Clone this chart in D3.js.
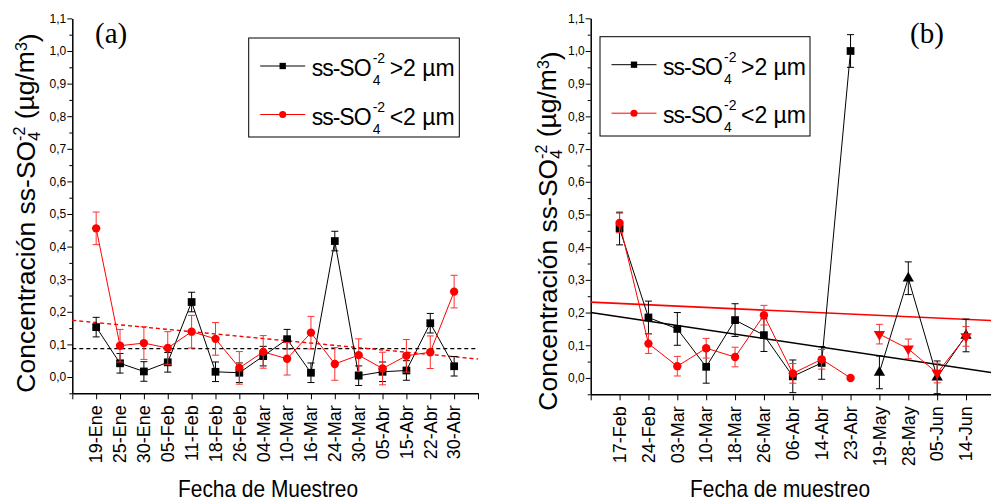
<!DOCTYPE html>
<html><head><meta charset="utf-8">
<script src="https://cdn.jsdelivr.net/npm/d3@7"></script>
<style>body{margin:0;background:#fff}svg{display:block}</style>
</head><body>
<div id="chart"></div>
<script>
// ---------- DATA ----------
const catsA = ["19-Ene","25-Ene","30-Ene","05-Feb","11-Feb","18-Feb","26-Feb","04-Mar","10-Mar","16-Mar","24-Mar","30-Mar","05-Abr","15-Abr","22-Abr","30-Abr"];
const coarseA = [0.153,0.042,0.017,0.045,0.230,0.016,0.013,0.064,0.116,0.013,0.417,0.004,0.016,0.020,0.165,0.033];
const coarseAErr = [0.03,0.03,0.03,0.03,0.03,0.03,0.03,0.03,0.03,0.03,0.03,0.03,0.03,0.03,0.03,0.03];
const fineA = [0.456,0.096,0.104,0.089,0.139,0.117,0.028,0.077,0.056,0.136,0.040,0.067,0.026,0.065,0.076,0.262];
const fineAErr = [0.05,0.05,0.05,0.05,0.05,0.05,0.05,0.05,0.05,0.05,0.05,0.05,0.05,0.05,0.05,0.05];
const trendAX = [0,17];
const trendACoarse = [0.087,0.087];
const trendAFine = [0.174,0.055];

const catsB = ["17-Feb","24-Feb","03-Mar","10-Mar","18-Mar","26-Mar","06-Abr","14-Abr","23-Abr","19-May","28-May","05-Jun","14-Jun"];
const coarseB = [0.457,0.185,0.150,0.034,0.177,0.131,0.005,0.046,1.000,0.017,0.305,0.002,0.130];
const coarseBErr = [0.05,0.05,0.05,0.05,0.05,0.05,0.05,0.05,0.05,0.05,0.05,0.05,0.05];
const fineB = [0.474,0.105,0.036,0.091,0.064,0.192,0.014,0.057,0.000,0.134,0.089,0.015,0.127];
const fineBErr = [0.03,0.03,0.03,0.03,0.03,0.03,0.03,0.03,0,0.03,0.03,0.03,0.03];
const groupB = [0,0,0,0,0,0,0,0,0,1,1,1,1];   // 0: first campaign, 1: second campaign
const trendBX = [0,14];
const trendBCoarse = [0.200,0.015];
const trendBFine = [0.232,0.175];

const yTicks = [0,0.1,0.2,0.3,0.4,0.5,0.6,0.7,0.8,0.9,1.0,1.1];
const yMinor = [-0.05,0.05,0.15,0.25,0.35,0.45,0.55,0.65,0.75,0.85,0.95,1.05];

// ---------- DRAW ----------
const W = 991, H = 501;
const SANS = "'Liberation Sans', Arial, sans-serif";
const svg = d3.select("#chart").append("svg").attr("width", W).attr("height", H)
  .style("font-family", SANS);
const fmt = v => d3.format(".1f")(v).replace(".", ",");

function panel(o) {
  const g = svg.append("g");
  const x = d3.scaleLinear().domain(o.xDomain).range(o.xRange);
  const y = d3.scaleLinear().domain([-0.05, 1.1]).range(o.yRange);
  const x0 = o.xRange[0];

  // y axis
  const ya = g.append("g").attr("transform", `translate(${x0},0)`)
    .call(d3.axisLeft(y).tickValues(yTicks).tickSize(5).tickSizeOuter(0).tickPadding(1).tickFormat(fmt));
  ya.selectAll("text").style("font-size", "12px").style("font-family", SANS).attr("fill", "#000");
  ya.select(".domain").attr("stroke-width", 1.5);
  ya.selectAll(".tick line").attr("stroke-width", 1);
  g.append("g").attr("transform", `translate(${x0},0)`)
    .call(d3.axisLeft(y).tickValues(yMinor).tickSize(3).tickFormat(""))
    .call(s => s.select(".domain").remove());

  // x axis
  const xa = g.append("g").attr("transform", `translate(0,${o.yRange[0]})`)
    .call(d3.axisBottom(x).tickValues(d3.range(o.xDomain[0], Math.floor(o.xDomain[1]) + 1)).tickSize(6).tickSizeOuter(0).tickFormat(""));
  xa.select(".domain").attr("stroke-width", 1.5);
  o.cats.forEach((c, i) => {
    g.append("text").attr("transform", `translate(${x(i + 1)},${o.yRange[0] + 12}) rotate(-90)`)
      .attr("text-anchor", "end").attr("dy", "0.35em").style("font-size", "18px").text(c);
  });

  // trend lines
  const tl = d3.line().x((d, i) => x(o.trendX[i])).y(d => y(d));
  g.append("path").attr("d", tl(o.trendCoarse)).attr("fill", "none").attr("stroke", "#000")
    .attr("stroke-width", o.trendWidth).attr("stroke-dasharray", o.trendDash);
  g.append("path").attr("d", tl(o.trendFine)).attr("fill", "none").attr("stroke", "#ff0000")
    .attr("stroke-width", o.trendWidth).attr("stroke-dasharray", o.trendDash);

  const series = [
    {vals: o.coarse, err: o.coarseErr, color: "#000", errColor: "#000", shapes: [d3.symbolSquare, d3.symbolTriangle], sizes:[60,55], rot:[0,0]},
    {vals: o.fine, err: o.fineErr, color: "#ff0000", errColor: "#ff3030", shapes: [d3.symbolCircle, d3.symbolTriangle], sizes:[55,55], rot:[0,180]}
  ];
  const groups = o.group || o.coarse.map(() => 0);
  series.forEach(s => {
    // error bars
    s.vals.forEach((v, i) => {
      const e = s.err[i]; if (!e) return;
      const cx = x(i + 1);
      const eg = g.append("g").attr("stroke", s.errColor).attr("stroke-width", 1);
      eg.append("line").attr("x1", cx).attr("x2", cx).attr("y1", y(v - e)).attr("y2", y(v + e));
      eg.append("line").attr("x1", cx - 3.5).attr("x2", cx + 3.5).attr("y1", y(v - e)).attr("y2", y(v - e));
      eg.append("line").attr("x1", cx - 3.5).attr("x2", cx + 3.5).attr("y1", y(v + e)).attr("y2", y(v + e));
    });
    // lines per group
    const line = d3.line().x(d => x(d.i + 1)).y(d => y(d.v));
    const gids = Array.from(new Set(groups));
    gids.forEach(gid => {
      const pts = s.vals.map((v, i) => ({v, i})).filter(d => groups[d.i] === gid);
      g.append("path").attr("d", line(pts)).attr("fill", "none").attr("stroke", s.color).attr("stroke-width", 1);
    });
    // markers
    s.vals.forEach((v, i) => {
      const k = groups[i];
      g.append("path").attr("d", d3.symbol(s.shapes[k], s.sizes[k])())
        .attr("transform", `translate(${x(i + 1)},${y(v)}) rotate(${s.rot[k]})`)
        .attr("fill", s.color);
    });
  });

  // panel letter
  g.append("text").attr("x", o.letterX).attr("y", 43)
    .style("font-family", "'Liberation Serif','Times New Roman',serif").style("font-size", "29px").text(o.letter);

  // legend
  const L = o.legend;
  g.append("rect").attr("x", L.x).attr("y", L.y).attr("width", L.w).attr("height", L.h)
    .attr("fill", "#fff").attr("stroke", "#000").attr("stroke-width", 1);
  const rows = [
    {color: "#000", shape: d3.symbolSquare, sign: ">"},
    {color: "#ff0000", shape: d3.symbolCircle, sign: "<"}
  ];
  rows.forEach((r, k) => {
    const ly = L.y + 28 + k * 48.5;
    g.append("line").attr("x1", L.x + 11.5).attr("x2", L.x + 56.5).attr("y1", ly).attr("y2", ly)
      .attr("stroke", r.color).attr("stroke-width", 1);
    g.append("path").attr("d", d3.symbol(r.shape, 40)()).attr("transform", `translate(${L.x + 34},${ly})`).attr("fill", r.color);
    const tx = L.x + 63, by = ly + 10;
    g.append("text").attr("x", tx).attr("y", by).style("letter-spacing", "-1px")
      .style("font-size", "23px").text("ss-SO");
    g.append("text").attr("x", tx + 61).attr("y", by + 9).style("font-size", "14px").text("4");
    g.append("text").attr("x", tx + 61).attr("y", by - 13).style("font-size", "14px").text("-2");
    g.append("text").attr("x", tx + 78).attr("y", by)
      .style("font-size", "23px").text(r.sign + "2 \u00b5m");
  });

  // y title
  const yt = g.append("text").attr("transform", `translate(${o.yTitleX},${o.yTitleY}) rotate(-90)`)
    .attr("text-anchor", "middle").style("font-size", "26.5px");
  yt.append("tspan").text("Concentración ss-SO");
  yt.append("tspan").attr("dy", "0.3em").style("font-size", "16px").text("4");
  yt.append("tspan").attr("dx", "-9").attr("dy", "-0.95em").style("font-size", "16px").text("-2");
  yt.append("tspan").attr("dy", "0.35em").text(" (\u00b5g/m");
  yt.append("tspan").attr("dy", "-0.4em").style("font-size", "16px").text("3");
  yt.append("tspan").attr("dy", "0.4em").text(")");

  // x title
  g.append("text").attr("x", o.xTitleX).attr("y", 497).attr("text-anchor", "middle")
    .attr("textLength", 180).attr("lengthAdjust", "spacingAndGlyphs")
    .style("font-size", "24px").text(o.xTitle);
}

panel({
  cats: catsA, coarse: coarseA, coarseErr: coarseAErr, fine: fineA, fineErr: fineAErr,
  trendX: trendAX, trendCoarse: trendACoarse, trendFine: trendAFine, trendWidth: 1.4, trendDash: "4,3",
  xDomain: [0, 17], xRange: [72.3, 478], yRange: [393.3, 18.4],
  letter: "(a)", letterX: 95,
  legend: {x: 248.7, y: 38, w: 210.6, h: 99},
  yTitleX: 35, yTitleY: 213, xTitle: "Fecha de Muestreo", xTitleX: 268
});
panel({
  cats: catsB, coarse: coarseB, coarseErr: coarseBErr, fine: fineB, fineErr: fineBErr, group: groupB,
  trendX: trendBX, trendCoarse: trendBCoarse, trendFine: trendBFine, trendWidth: 1.6, trendDash: null,
  xDomain: [0, 14], xRange: [590.7, 994.9], yRange: [394.3, 18.3],
  letter: "(b)", letterX: 910,
  legend: {x: 600, y: 36.7, w: 210, h: 99.3},
  yTitleX: 557, yTitleY: 231, xTitle: "Fecha de muestreo", xTitleX: 780
});
</script>
</body></html>
